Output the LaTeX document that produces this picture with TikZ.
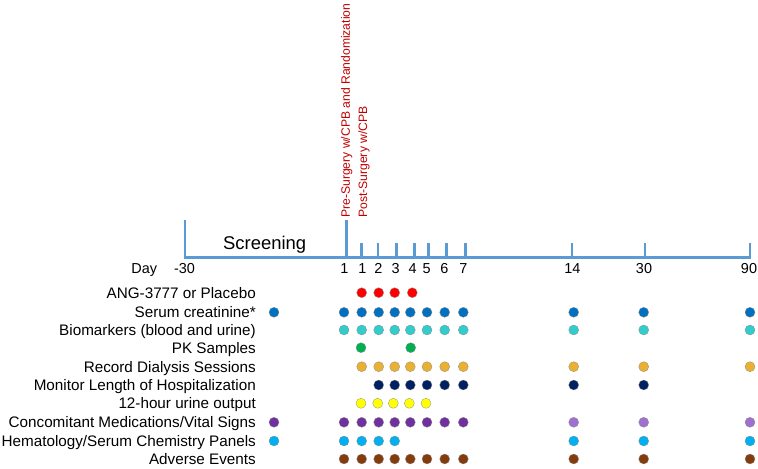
\documentclass[tikz,border=0pt]{standalone}
\usepackage{fontspec}
\setmainfont{Liberation Sans}
\definecolor{axisblue}{HTML}{5B9BD5}
\definecolor{redlab}{HTML}{C00000}
\definecolor{cRed}{HTML}{FF0000}
\definecolor{cBlue}{HTML}{0070C0}
\definecolor{cTeal}{HTML}{33CCCC}
\definecolor{cGreen}{HTML}{00B050}
\definecolor{cOrange}{HTML}{EAB030}
\definecolor{cNavy}{HTML}{002060}
\definecolor{cYellow}{HTML}{FFFF00}
\definecolor{cPurple}{HTML}{7030A0}
\definecolor{cLilac}{HTML}{A070D0}
\definecolor{cSky}{HTML}{00B0F0}
\definecolor{cBrown}{HTML}{843C0C}
\tikzset{
  axisline/.style={draw=axisblue, line width=2.6bp},
  dot/.style={circle, draw=black!45, line width=0.3bp, minimum size=10bp, inner sep=0pt},
  rowlab/.style={anchor=base east, inner sep=0pt, font=\fontsize{15.3}{17}\selectfont},
  daylab/.style={anchor=base, inner sep=0pt, font=\fontsize{14.5}{17}\selectfont},
  redtext/.style={anchor=base west, rotate=90, inner sep=0pt, text=redlab, font=\fontsize{12.2}{14}\selectfont},
}
\begin{document}
\begin{tikzpicture}[x=1bp,y=-1bp]
\useasboundingbox (0,0) rectangle (758,469);
% axis
\coordinate (a0) at (185,257.5);
\coordinate (aEnd) at (750,257.5);
\draw[axisline] (185,220) -- (a0) -- (aEnd) -- (750,243);
\draw[axisline] (346.5,257.5) -- (346.5,220);
\foreach \x in {361.7,378,396.7,414.7,428.7,446.3,465.3,572,645}
  \draw[axisline] (\x,257.5) -- (\x,243);
\node[anchor=base west, inner sep=0pt, font=\fontsize{18.5}{20}\selectfont] (screen) at (223,249.7) {Screening};
% red labels
\node[redtext] (pre) at (349.8,218) {Pre-Surgery w/CPB and Randomization};
\node[redtext] (post) at (367,218) {Post-Surgery w/CPB};
% day labels
\node[daylab] (day) at (144.2,274) {Day};
\node[daylab] (dm30) at (184.5,274) {-30};
\node[daylab] (dpre) at (344.5,274) {1};
\node[daylab] (d1) at (362.3,274) {1};
\node[daylab] (d2) at (378.3,274) {2};
\node[daylab] (d3) at (395.7,274) {3};
\node[daylab] (d4) at (412.7,274) {4};
\node[daylab] (d5) at (426.7,274) {5};
\node[daylab] (d6) at (444.3,274) {6};
\node[daylab] (d7) at (463.3,274) {7};
\node[daylab] (d14) at (572.3,274) {14};
\node[daylab] (d30) at (644,274) {30};
\node[daylab] (d90) at (749,274) {90};
% row labels
\node[rowlab] (l1) at (256,298.1) {ANG-3777 or Placebo};
\node[rowlab] (l2) at (256,317.7) {Serum creatinine*};
\node[rowlab] (l3) at (256,335.4) {Biomarkers (blood and urine)};
\node[rowlab] (l4) at (256,353.1) {PK Samples};
\node[rowlab] (l5) at (256,372.1) {Record Dialysis Sessions};
\node[rowlab] (l6) at (256,390.4) {Monitor Length of Hospitalization};
\node[rowlab] (l7) at (256,408.7) {12-hour urine output};
\node[rowlab] (l8) at (256,427.7) {Concomitant Medications/Vital Signs};
\node[rowlab] (l9) at (256,446.4) {Hematology/Serum Chemistry Panels};
\node[rowlab] (l10) at (256,464.4) {Adverse Events};
% dots
\foreach \x [count=\i] in {361.7,378.7,394.7,412.3}
  \node[dot, fill=cRed] (r1-\i) at (\x,292.7) {};
\foreach \x [count=\i] in {274,344,361.7,378.7,394.7,410.3,427,444.7,463.3,573.7,643.7,750}
  \node[dot, fill=cBlue] (r2-\i) at (\x,312.3) {};
\foreach \x [count=\i] in {344,361.7,378.7,394.7,410.3,427,444.7,463.3,573.7,643.7,750}
  \node[dot, fill=cTeal] (r3-\i) at (\x,330) {};
\foreach \x [count=\i] in {361,410.7}
  \node[dot, fill=cGreen] (r4-\i) at (\x,347.7) {};
\foreach \x [count=\i] in {361.7,378.7,394.7,410.3,427,444.7,463.3,573.7,643.7,750}
  \node[dot, fill=cOrange] (r5-\i) at (\x,366.7) {};
\foreach \x [count=\i] in {378.7,394.7,410.3,427,444.7,463.3,573.7,643.7}
  \node[dot, fill=cNavy] (r6-\i) at (\x,385) {};
\foreach \x [count=\i] in {361,377.7,393.3,409.3,426}
  \node[dot, fill=cYellow] (r7-\i) at (\x,403.3) {};
\foreach \x [count=\i] in {274,344,361.7,378.7,394.7,410.3,427,444.7,463.3}
  \node[dot, fill=cPurple] (r8-\i) at (\x,422.3) {};
\foreach \x [count=\i] in {573.7,643.7,750}
  \node[dot, fill=cLilac] (r8b-\i) at (\x,422.3) {};
\foreach \x [count=\i] in {274,344,361.7,378.7,394.7,573.7,643.7,750}
  \node[dot, fill=cSky] (r9-\i) at (\x,441) {};
\foreach \x [count=\i] in {344,361.7,378.7,394.7,410.3,427,444.7,463.3,573.7,643.7,750}
  \node[dot, fill=cBrown] (r10-\i) at (\x,459) {};
\end{tikzpicture}
\end{document}
